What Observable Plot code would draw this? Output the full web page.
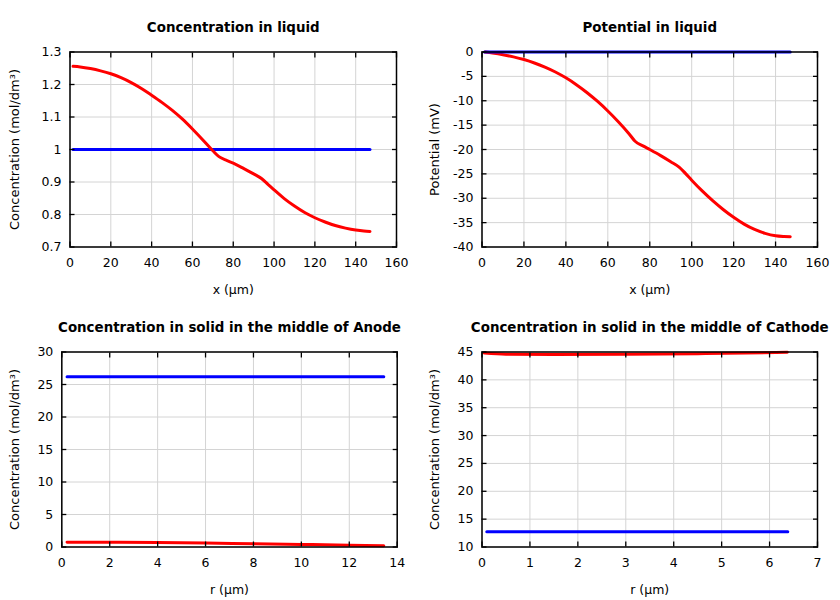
<!DOCTYPE html>
<html><head><meta charset="utf-8">
<script src="https://cdn.jsdelivr.net/npm/d3@7"></script>
<script src="https://cdn.jsdelivr.net/npm/@observablehq/plot@0.6"></script>
<style>
body{margin:0;background:#fff;}
#wrap{position:relative;width:840px;height:600px;background:#fff;}
.panel{position:absolute;}
</style></head><body><div id="wrap"></div>
<script>
// ---- Panel 1: Concentration in liquid ----
const liqX = [1.5,5,10,15,20,25,30,35,40,45,50,55,60,65,70,73,77,80,85,90,94,97,100,105,110,115,120,125,130,135,140,144,147];
const liqConcRed = [1.256,1.254,1.249,1.242,1.233,1.221,1.206,1.188,1.167,1.145,1.121,1.094,1.063,1.030,0.996,0.978,0.966,0.958,0.942,0.925,0.910,0.893,0.876,0.849,0.826,0.806,0.790,0.777,0.766,0.758,0.752,0.749,0.748];
const liqConcBlueX = [1.5,147];
const liqConcBlue = [1.0,1.0];
// ---- Panel 2: Potential in liquid ----
const potRed = [0,-0.2,-0.55,-1.0,-1.55,-2.25,-3.1,-4.1,-5.3,-6.7,-8.3,-10.1,-12.1,-14.3,-16.7,-18.3,-19.3,-20.0,-21.2,-22.5,-23.6,-24.9,-26.3,-28.5,-30.5,-32.3,-33.9,-35.3,-36.4,-37.2,-37.7,-37.85,-37.9];
const potBlueX = [1.2,147];
const potBlue = [0,0];
// ---- Panel 3: Anode solid ----
const anodeR = [0.22,2,4,6,8,10,12,13.44];
const anodeRed = [0.75,0.74,0.68,0.60,0.50,0.40,0.28,0.20];
const anodeBlueR = [0.22,13.44];
const anodeBlue = [26.2,26.2];
// ---- Panel 4: Cathode solid ----
const cathR = [0.05,0.5,1.5,3,4.5,5.5,6.37];
const cathRed = [44.8,44.6,44.55,44.6,44.7,44.8,44.95];
const cathBlueR = [0.1,6.38];
const cathBlue = [12.75,12.75];
// ---- Ticks ----
const ticksX160 = [0,20,40,60,80,100,120,140,160];
const ticksConcLiq = [0.7,0.8,0.9,1.0,1.1,1.2,1.3];
const ticksPot = [-40,-35,-30,-25,-20,-15,-10,-5,0];
const ticksR14 = [0,2,4,6,8,10,12,14];
const ticksAnode = [0,5,10,15,20,25,30];
const ticksR7 = [0,1,2,3,4,5,6,7];
const ticksCath = [10,15,20,25,30,35,40,45];
// ---- Titles / labels ----
const titles = ["Concentration in liquid","Potential in liquid","Concentration in solid in the middle of Anode","Concentration in solid in the middle of Cathode"];
const xLabels = ["x (μm)","x (μm)","r (μm)","r (μm)"];
const yLabels = ["Concentration (mol/dm³)","Potential (mV)","Concentration (mol/dm³)","Concentration (mol/dm³)"];

const zip = (xs, ys) => xs.map((x,i) => ({x, y: ys[i]}));
const fmt = d => `${+d.toFixed(3)}`;
const FONT = "DejaVu Sans, sans-serif";

function panel({left, top, mL, mR, title, xLabel, yLabel, xTicks, yTicks, series}) {
  const fs = 12.5;
  const chart = Plot.plot({
    width: 420, height: 300,
    marginLeft: mL, marginRight: mR, marginTop: 51.5, marginBottom: 53.5,
    style: {fontFamily: FONT, fontSize: fs + "px", color: "black", background: "transparent", overflow: "visible"},
    x: {domain: [xTicks[0], xTicks[xTicks.length-1]], axis: null},
    y: {domain: [yTicks[0], yTicks[yTicks.length-1]], axis: null},
    marks: [
      Plot.gridX(xTicks, {stroke: "#d4d4d4", strokeOpacity: 1, strokeWidth: 1}),
      Plot.gridY(yTicks, {stroke: "#d4d4d4", strokeOpacity: 1, strokeWidth: 1}),
      ...series.map(s => Plot.line(s.data, {x: "x", y: "y", stroke: s.color, strokeWidth: 3, curve: "monotone-x"})),
      Plot.frame({stroke: "black", strokeWidth: 1.5}),
      Plot.axisX(xTicks, {anchor: "bottom", tickSize: -5, tickPadding: 16, tickFormat: fmt, label: null, fontSize: fs, strokeWidth: 1.3}),
      Plot.axisX(xTicks, {anchor: "top", tickSize: -5, tickFormat: () => "", label: null, strokeWidth: 1.3}),
      Plot.axisY(yTicks, {anchor: "left", tickSize: -5, tickPadding: 13.5, tickFormat: fmt, label: null, fontSize: fs, strokeWidth: 1.3}),
      Plot.axisY(yTicks, {anchor: "right", tickSize: -5, tickFormat: () => "", label: null, strokeWidth: 1.3}),
      Plot.text([title], {text: d => d, frameAnchor: "top", lineAnchor: "middle", dy: -24.5, fontWeight: "bold", fontSize: 13.4, fill: "black"}),
      Plot.text([xLabel], {text: d => d, frameAnchor: "bottom", lineAnchor: "middle", dy: 42.5, fontSize: fs, fill: "black"}),
      Plot.text([yLabel], {text: d => d, frameAnchor: "left", textAnchor: "middle", lineAnchor: "middle", dx: -(mL - 14), rotate: -90, fontSize: 13, fill: "black"})
    ]
  });
  const div = document.createElement("div");
  div.className = "panel";
  div.style.left = left + "px";
  div.style.top = top + "px";
  div.appendChild(chart);
  document.getElementById("wrap").appendChild(div);
}

panel({left: 0, top: 0, mL: 69.5, mR: 24, title: titles[0], xLabel: xLabels[0], yLabel: yLabels[0],
  xTicks: ticksX160, yTicks: ticksConcLiq,
  series: [{data: zip(liqConcBlueX, liqConcBlue), color: "#0000ff"}, {data: zip(liqX, liqConcRed), color: "#ff0000"}]});
panel({left: 420, top: 0, mL: 61.5, mR: 23, title: titles[1], xLabel: xLabels[1], yLabel: yLabels[1],
  xTicks: ticksX160, yTicks: ticksPot,
  series: [{data: zip(liqX, potRed), color: "#ff0000"}, {data: zip(potBlueX, potBlue), color: "#0000ff"}]});
panel({left: 0, top: 300, mL: 61.3, mR: 23.3, title: titles[2], xLabel: xLabels[2], yLabel: yLabels[2],
  xTicks: ticksR14, yTicks: ticksAnode,
  series: [{data: zip(anodeBlueR, anodeBlue), color: "#0000ff"}, {data: zip(anodeR, anodeRed), color: "#ff0000"}]});
panel({left: 420, top: 300, mL: 61.5, mR: 23, title: titles[3], xLabel: xLabels[3], yLabel: yLabels[3],
  xTicks: ticksR7, yTicks: ticksCath,
  series: [{data: zip(cathBlueR, cathBlue), color: "#0000ff"}, {data: zip(cathR, cathRed), color: "#ff0000"}]});
</script></body></html>
